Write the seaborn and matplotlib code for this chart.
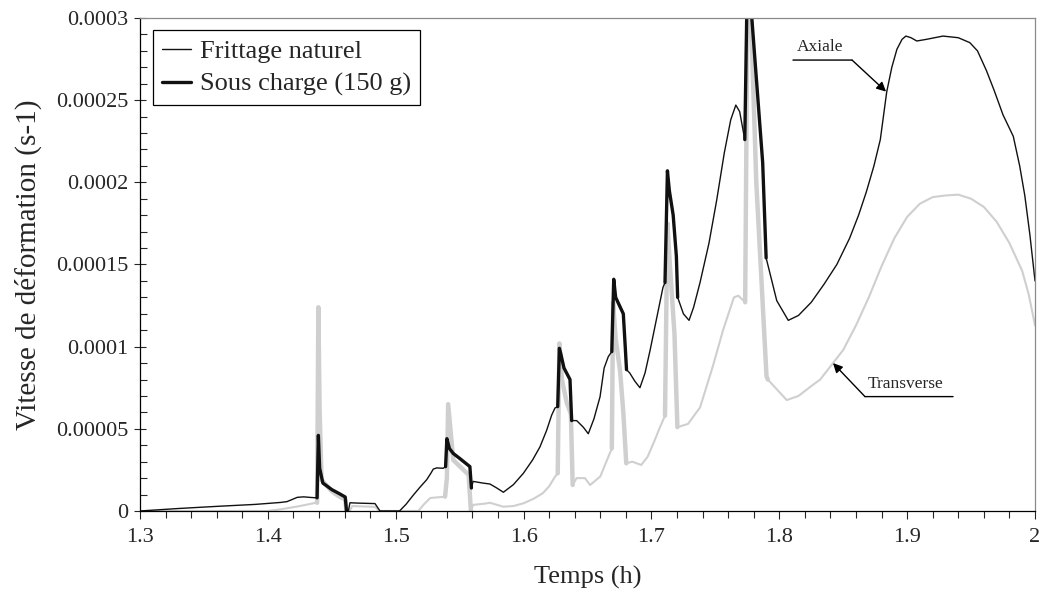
import matplotlib
matplotlib.use("Agg")
import matplotlib.pyplot as plt
import numpy as np
import pandas as pd
import seaborn as sns
from matplotlib.ticker import MultipleLocator, FuncFormatter
from matplotlib.lines import Line2D

# Strain rate (units of 1e-5 s-1) vs time (h)
AXIAL_T = [1.300, 1.330, 1.360, 1.390, 1.410, 1.415, 1.419, 1.423, 1.428, 1.434,
           1.4385, 1.4395, 1.4405, 1.443, 1.450, 1.456, 1.4605, 1.4615, 1.4630, 1.4642,
           1.4700, 1.4838, 1.4877, 1.503, 1.508, 1.5138, 1.519, 1.5242, 1.5275, 1.5294,
           1.532, 1.5372, 1.5390, 1.5400, 1.5420, 1.5450, 1.5500, 1.5580, 1.5592, 1.5605,
           1.5680, 1.5737, 1.5790, 1.5842, 1.5920, 1.5998, 1.6070, 1.6128, 1.6180, 1.6220,
           1.6246, 1.6267, 1.6280, 1.6290, 1.6316, 1.6363, 1.6376, 1.6415, 1.6467, 1.6506,
           1.6550, 1.6598, 1.6630, 1.6663, 1.6690, 1.6705, 1.6720, 1.6780, 1.6795, 1.6805,
           1.6830, 1.6870, 1.6910, 1.6950, 1.6990, 1.7040, 1.7090, 1.7106, 1.7125, 1.7140,
           1.7170, 1.7195, 1.7205, 1.7250, 1.7294, 1.7330, 1.7380, 1.7450, 1.7510, 1.7570,
           1.7620, 1.7660, 1.7690, 1.7730, 1.7755, 1.7775, 1.7785, 1.7870, 1.7897, 1.7980,
           1.8070, 1.8150, 1.8250, 1.8350, 1.8450, 1.8550, 1.8620, 1.8680, 1.8740, 1.8790,
           1.8840, 1.8880, 1.8920, 1.8960, 1.8990, 1.9030, 1.9075, 1.9150, 1.9280, 1.9400,
           1.9490, 1.9550, 1.9620, 1.9680, 1.9750, 1.9830, 1.9880, 1.9920, 1.9960, 2.0000]
AXIAL_V = [0.0, 0.15, 0.28, 0.40, 0.52, 0.57, 0.70, 0.83, 0.86, 0.82,
           0.80, 4.6, 2.6, 1.7, 1.3, 1.05, 0.85, 0.0, 0.0, 0.5,
           0.48, 0.45, 0.0, 0.0, 0.4, 0.97, 1.45, 1.9, 2.3, 2.55,
           2.62, 2.6, 2.7, 4.4, 3.8, 3.5, 3.2, 2.7, 1.4, 1.8,
           1.7, 1.64, 1.4, 1.14, 1.6, 2.29, 3.1, 3.9, 4.9, 5.84,
           6.27, 6.35, 9.9, 9.6, 8.7, 8.0, 5.5, 5.5, 5.1, 4.7,
           5.6, 6.95, 8.7, 9.4, 9.7, 14.1, 13.0, 12.0, 10.0, 8.6,
           8.4, 7.9, 7.5, 8.4, 9.8, 11.7, 13.6, 13.9, 20.7, 19.5,
           18.0, 15.5, 13.0, 12.0, 11.6, 12.4, 13.9, 16.3, 18.9, 21.8,
           23.8, 24.7, 24.3, 22.6, 35.0, 33.0, 30.0, 21.2, 15.4, 12.8,
           11.6, 11.9, 12.7, 13.8, 15.0, 16.6, 18.0, 19.4, 21.0, 22.6,
           25.5, 27.0, 28.1, 28.7, 28.9, 28.8, 28.6, 28.7, 28.9, 28.8,
           28.5, 28.0, 26.8, 25.6, 24.1, 22.8, 21.0, 19.2, 16.8, 14.0]

TRANS_T = [1.300, 1.400, 1.410, 1.425, 1.4375, 1.4385, 1.4395, 1.4405, 1.4420, 1.4500,
           1.4560, 1.4605, 1.4615, 1.4640, 1.4660, 1.4840, 1.4870, 1.5177, 1.5220, 1.5270,
           1.5386, 1.5400, 1.5410, 1.5450, 1.5570, 1.5588, 1.5605, 1.5700, 1.5737, 1.5842,
           1.5920, 1.6000, 1.6080, 1.6150, 1.6200, 1.6246, 1.6267, 1.6280, 1.6300, 1.6337,
           1.6370, 1.6384, 1.6415, 1.6480, 1.6520, 1.6600, 1.6663, 1.6690, 1.6700, 1.6720,
           1.6755, 1.6780, 1.6803, 1.6850, 1.6920, 1.6970, 1.7020, 1.7067, 1.7106, 1.7125,
           1.7140, 1.7180, 1.7203, 1.7286, 1.7380, 1.7480, 1.7560, 1.7645, 1.7680, 1.7733,
           1.7755, 1.7775, 1.7820, 1.7900, 1.7910, 1.8058, 1.8150, 1.8250, 1.8320, 1.8420,
           1.8500, 1.8600, 1.8700, 1.8800, 1.8900, 1.9000, 1.9100, 1.9200, 1.9300, 1.9400,
           1.9500, 1.9600, 1.9700, 1.9800, 1.9900, 1.9950, 2.0000]
TRANS_V = [0.0, 0.0, 0.1, 0.3, 0.5, 0.5, 12.4, 6.0, 1.9, 1.2,
           0.87, 0.7, 0.0, 0.0, 0.3, 0.25, 0.0, 0.0, 0.4, 0.79,
           0.87, 2.0, 6.5, 3.1, 2.2, 0.0, 0.37, 0.45, 0.5, 0.26,
           0.3, 0.47, 0.75, 1.08, 1.5, 2.09, 2.29, 10.2, 8.0, 6.6,
           5.9, 1.58, 2.0, 2.0, 1.58, 2.1, 3.3, 3.8, 12.7, 10.5,
           8.5, 6.0, 2.9, 3.0, 2.8, 3.3, 4.2, 5.1, 5.8, 17.5,
           15.5, 10.8, 5.1, 5.3, 6.3, 8.8, 11.0, 13.0, 13.1, 12.7,
           35.0, 31.0, 20.0, 8.2, 8.0, 6.75, 7.0, 7.6, 8.0, 9.0,
           9.8, 11.3, 13.0, 14.9, 16.6, 17.9, 18.7, 19.1, 19.2, 19.25,
           19.0, 18.5, 17.6, 16.3, 14.6, 13.2, 11.3]

# time windows with the 150 g load applied (thick segments)
LOAD_START = [1.4385, 1.5386, 1.6267, 1.6690, 1.7106, 1.7730]
LOAD_END = [1.4615, 1.5592, 1.6384, 1.6805, 1.7205, 1.7910]

SCALE = 1e-5
BLACK = "#111111"
GREY = "#cfcfcf"
SERIF = ["Liberation Serif", "DejaVu Serif"]


def _frame(t, v):
    return pd.DataFrame({"t": t, "v": np.asarray(v) * SCALE})


def _loaded(df):
    parts = []
    for i, (a, b) in enumerate(zip(LOAD_START, LOAD_END)):
        sub = df[(df["t"] >= a - 1e-9) & (df["t"] <= b + 1e-9)].copy()
        sub["seg"] = i
        parts.append(sub)
    return pd.concat(parts, ignore_index=True)


axial = _frame(AXIAL_T, AXIAL_V)
trans = _frame(TRANS_T, TRANS_V)

sns.set_style("ticks")
plt.rcParams["font.family"] = SERIF

fig = plt.figure(figsize=(10.44, 6.06), dpi=100)
ax = fig.add_axes([0.1341, 0.1568, 0.8573, 0.8135])

kw = dict(x="t", y="v", sort=False, estimator=None, ax=ax, legend=False)
sns.lineplot(data=trans, color=GREY, linewidth=1.5, **kw)
sns.lineplot(data=_loaded(trans), units="seg", color=GREY, linewidth=3.2, **kw)
sns.lineplot(data=axial, color=BLACK, linewidth=1.0, **kw)
sns.lineplot(data=_loaded(axial), units="seg", color=BLACK, linewidth=2.4, **kw)

ax.set_xlim(1.3, 2.0)
ax.set_ylim(0, 0.0003)
ax.xaxis.set_major_locator(MultipleLocator(0.1))
ax.xaxis.set_minor_locator(MultipleLocator(0.02))
ax.yaxis.set_major_locator(MultipleLocator(0.00005))
ax.yaxis.set_minor_locator(MultipleLocator(0.00001))
ax.xaxis.set_major_formatter(FuncFormatter(lambda x, _: f"{x:g}"))
ax.yaxis.set_major_formatter(
    FuncFormatter(lambda y, _: f"{y:.5f}".rstrip("0").rstrip(".")))
ax.tick_params(axis="x", which="major", direction="out", length=6, width=0.8,
               labelsize=16, pad=6)
ax.tick_params(axis="x", which="minor", direction="out", length=5, width=0.8)
ax.tick_params(axis="y", which="major", direction="inout", length=9, width=0.8,
               labelsize=16, pad=4)
ax.tick_params(axis="y", which="minor", direction="in", length=5, width=0.8)
for side in ("top", "right"):
    ax.spines[side].set_color("#8a8a8a")
for side in ("left", "bottom"):
    ax.spines[side].set_color("black")
for s in ax.spines.values():
    s.set_linewidth(0.9)

ax.set_xlabel("Temps (h)", fontsize=19, labelpad=14)
ax.set_ylabel("Vitesse de déformation (s-1)", fontsize=21, labelpad=10)

handles = [Line2D([], [], color=BLACK, linewidth=1.0),
           Line2D([], [], color=BLACK, linewidth=2.4)]
leg = ax.legend(handles, ["Frittage naturel", "Sous charge (150 g)"],
                loc="upper left", bbox_to_anchor=(0.014, 0.975), fontsize=19,
                frameon=True, fancybox=False, framealpha=1, borderpad=0.35,
                handlelength=1.1, handletextpad=0.35, labelspacing=0.35,
                borderaxespad=0)
leg.get_frame().set_edgecolor("black")
leg.get_frame().set_linewidth(0.9)

# callouts
arrow = dict(arrowstyle="-|>", color="black", lw=1.0, mutation_scale=14,
             shrinkA=0, shrinkB=0)
plain = dict(arrowstyle="-", color="black", lw=1.0, shrinkA=0, shrinkB=0)
ax.annotate("", xy=(1.8569, 2.744e-4), xytext=(1.8107, 2.744e-4), arrowprops=plain)
ax.annotate("", xy=(1.8835, 2.552e-4), xytext=(1.8569, 2.744e-4), arrowprops=arrow)
ax.text(1.8135, 2.775e-4, "Axiale", fontsize=12.5, va="bottom", ha="left")
ax.annotate("", xy=(1.9359, 6.96e-5), xytext=(1.867, 6.96e-5), arrowprops=plain)
ax.annotate("", xy=(1.842, 9.0e-5), xytext=(1.867, 6.96e-5), arrowprops=arrow)
ax.text(1.8694, 7.25e-5, "Transverse", fontsize=12.5, va="bottom", ha="left")

fig.savefig("out.png", dpi=100)
